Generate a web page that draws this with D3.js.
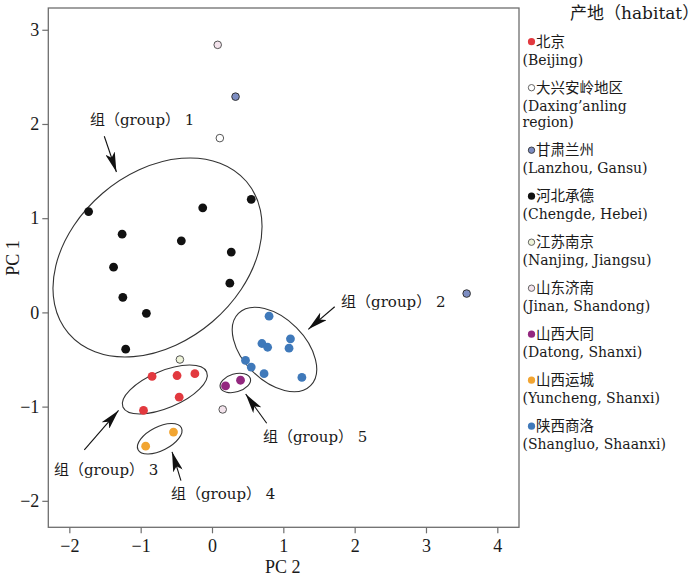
<!DOCTYPE html>
<html>
<head>
<meta charset="utf-8">
<script src="https://cdn.jsdelivr.net/npm/d3@7/dist/d3.min.js"></script>
<style>
  html, body { margin: 0; padding: 0; background: #fff; }
  svg { display: block; }
</style>
</head>
<body>
<svg id="chart" width="700" height="579"></svg>
<script>
// ---------- data (x = PC 2, y = PC 1) ----------
const beijing   = [[-0.84,-0.68],[-0.49,-0.67],[-0.24,-0.65],[-0.46,-0.90],[-0.96,-1.04]];
const daxing    = [[0.11,1.85]];
const lanzhou   = [[0.33,2.29],[3.57,0.20]];
const chengde   = [[-1.73,1.07],[-1.26,0.83],[-1.38,0.48],[-1.25,0.16],[-0.92,-0.01],[-1.21,-0.39],
                   [-0.13,1.11],[-0.43,0.76],[0.55,1.20],[0.27,0.64],[0.25,0.31]];
const nanjing   = [[-0.45,-0.50]];
const jinan     = [[0.08,2.84],[0.15,-1.03]];
const datong    = [[0.19,-0.78],[0.40,-0.72]];
const yuncheng  = [[-0.54,-1.27],[-0.93,-1.42]];
const shangluo  = [[0.80,-0.04],[0.70,-0.33],[0.78,-0.37],[1.10,-0.28],[1.08,-0.38],
                   [0.47,-0.51],[0.55,-0.58],[0.73,-0.65],[1.26,-0.69]];

const habitatZh = ["北京","大兴安岭地区","甘肃兰州","河北承德","江苏南京","山东济南","山西大同","山西运城","陕西商洛"];
const habitatEn = [["(Beijing)"],["(Daxing’anling","region)"],["(Lanzhou, Gansu)"],["(Chengde, Hebei)"],
                   ["(Nanjing, Jiangsu)"],["(Jinan, Shandong)"],["(Datong, Shanxi)"],["(Yuncheng, Shanxi)"],["(Shangluo, Shaanxi)"]];
const habitatData = [beijing, daxing, lanzhou, chengde, nanjing, jinan, datong, yuncheng, shangluo];
const habitatFill = ["#e2393f","#ffffff","#7d8dc2","#111111","#eff4da","#f3e3ec","#93287f","#f2a531","#3f79ba"];
const habitatStroke = ["none","#555","#333","none","#555","#555","none","none","none"];

const xTicks = [-2,-1,0,1,2,3,4];
const yTicks = [-2,-1,0,1,2,3];

// group ellipses: centre in data units
const groupNames = ["组（group） 1","组（group） 2","组（group） 3","组（group） 4","组（group） 5"];
const ellipseCentre = [[-0.764,0.583],[0.876,-0.394],[-0.662,-0.818],[-0.733,-1.341],[0.327,-0.749]];
const ellipseRadii  = [[117,84.5],[51,31],[45.4,18.5],[24.3,11.8],[15.7,9]];
const ellipseAngle  = [-40.5,45,-22.7,-27,-16.5];
const labelPos   = [[-1.71,2.04],[1.81,0.11],[-2.215,-1.67],[-0.575,-1.93],[0.715,-1.32]];
const arrowFrom  = [[-1.51,1.87],[1.72,0.06],[-1.79,-1.46],[-0.435,-1.785],[0.767,-1.177]];
const arrowTo    = [[-1.34,1.49],[1.35,-0.18],[-1.31,-1.04],[-0.56,-1.48],[0.472,-0.866]];

// ---------- layout ----------
const svg = d3.select("#chart");
const mL = 48.3, mR = 519, mT = 8, mB = 527.3;
const x = d3.scaleLinear().domain([-2.295, 4.304]).range([mL, mR]);
const y = d3.scaleLinear().domain([-2.281, 3.231]).range([mB, mT]);

const serif = "'Liberation Serif','Noto Sans CJK SC',serif";
const txt = "'DejaVu Serif','Noto Sans CJK SC',serif";
const fmt = d3.format("d");

// frame
svg.append("rect").attr("x", mL).attr("y", mT).attr("width", mR-mL).attr("height", mB-mT)
   .attr("fill","none").attr("stroke","#6e6e6e").attr("stroke-width",1.3);

// axes
const xAxis = svg.append("g").attr("transform",`translate(0,${mB})`)
  .call(d3.axisBottom(x).tickValues(xTicks).tickFormat(fmt).tickSize(6).tickSizeOuter(0).tickPadding(6));
const yAxis = svg.append("g").attr("transform",`translate(${mL},0)`)
  .call(d3.axisLeft(y).tickValues(yTicks).tickFormat(fmt).tickSize(6).tickSizeOuter(0).tickPadding(3));
[xAxis,yAxis].forEach(g => {
  g.select(".domain").remove();
  g.selectAll(".tick line").attr("stroke","#6e6e6e").attr("stroke-width",1.2);
  g.selectAll(".tick text").attr("fill","#1a1a1a").style("font-family",serif).style("font-size","18px");
});

svg.append("text").attr("x", (mL+mR)/2 - 1).attr("y", 567).attr("text-anchor","middle")
  .attr("dominant-baseline","central").style("font-family",serif).style("font-size","18px").attr("fill","#1a1a1a").text("PC 2");
svg.append("text").attr("transform","translate(13,258) rotate(-90)").attr("text-anchor","middle")
  .attr("dominant-baseline","central").style("font-family",serif).style("font-size","18px").attr("fill","#1a1a1a").text("PC 1");

// ellipses
svg.append("g").selectAll("ellipse").data(d3.range(ellipseCentre.length)).join("ellipse")
  .attr("transform", i => `translate(${x(ellipseCentre[i][0])},${y(ellipseCentre[i][1])}) rotate(${ellipseAngle[i]})`)
  .attr("rx", i => ellipseRadii[i][0]).attr("ry", i => ellipseRadii[i][1])
  .attr("fill","none").attr("stroke","#333").attr("stroke-width",1.1);

// arrows
const defs = svg.append("defs");
defs.append("marker").attr("id","arr").attr("viewBox","0 0 20 10").attr("refX",20).attr("refY",5)
  .attr("markerWidth",20).attr("markerHeight",10).attr("markerUnits","userSpaceOnUse").attr("orient","auto")
  .append("path").attr("d","M0,0 L20,5 L0,10 L5,5 Z").attr("fill","#111");
svg.append("g").selectAll("line").data(d3.range(arrowFrom.length)).join("line")
  .attr("x1", i => x(arrowFrom[i][0])).attr("y1", i => y(arrowFrom[i][1]))
  .attr("x2", i => x(arrowTo[i][0])).attr("y2", i => y(arrowTo[i][1]))
  .attr("stroke","#111").attr("stroke-width",1.1).attr("marker-end","url(#arr)");

// group labels
svg.append("g").selectAll("text").data(d3.range(groupNames.length)).join("text")
  .attr("x", i => x(labelPos[i][0])).attr("y", i => y(labelPos[i][1]))
  .attr("dominant-baseline","central").style("font-family",txt).style("font-size","15px").attr("fill","#1a1a1a")
  .text(i => groupNames[i]);

// points
const pts = habitatData.flatMap((arr,k) => arr.map(d => ({x:d[0], y:d[1], k})));
svg.append("g").selectAll("circle").data(pts).join("circle")
  .attr("cx", d => x(d.x)).attr("cy", d => y(d.y))
  .attr("r", d => habitatStroke[d.k] === "none" ? 4.4 : 3.8)
  .attr("fill", d => habitatFill[d.k])
  .attr("stroke", d => habitatStroke[d.k] === "none" ? null : habitatStroke[d.k])
  .attr("stroke-width", 1);

// legend
const lg = svg.append("g");
lg.append("text").attr("x",570).attr("y",13).attr("dominant-baseline","central")
  .style("font-family",txt).style("font-size","17px").attr("fill","#1a1a1a").text("产地（habitat）");
let ly = 41.7;
habitatZh.forEach((name,i) => {
  const g = lg.append("g");
  g.append("circle").attr("cx",531.5).attr("cy",ly).attr("r", habitatStroke[i]==="none" ? 3.6 : 3.2)
    .attr("fill",habitatFill[i]).attr("stroke", habitatStroke[i]==="none" ? null : habitatStroke[i]).attr("stroke-width",0.9);
  g.append("text").attr("x",536).attr("y",ly).attr("dominant-baseline","central")
    .style("font-family",txt).style("font-size","14.5px").attr("fill","#1a1a1a").text(name);
  habitatEn[i].forEach((line,j) => {
    g.append("text").attr("x",522.5).attr("y",ly+18+j*16.5).attr("dominant-baseline","central")
      .style("font-family",txt).style("font-size","14px").attr("fill","#1a1a1a").text(line);
  });
  ly += 46 + 16.5*(habitatEn[i].length-1);
});
</script>
</body>
</html>
